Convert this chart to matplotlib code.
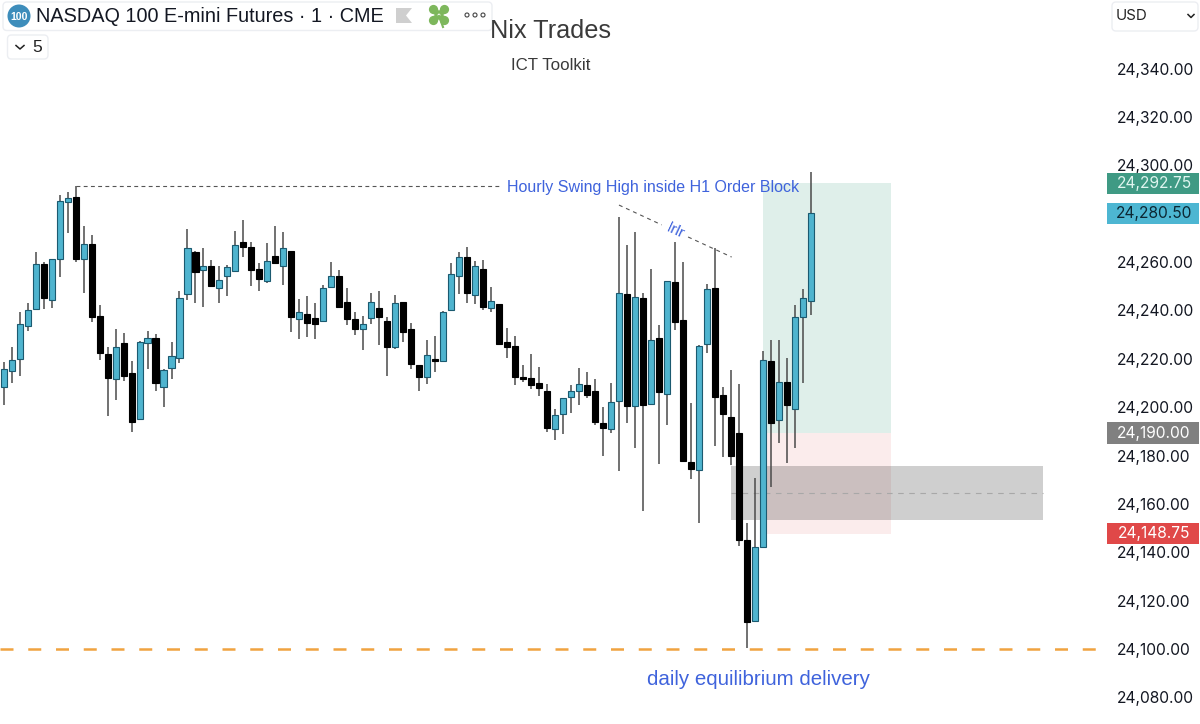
import matplotlib
matplotlib.use("Agg")
import numpy as np
import matplotlib.pyplot as plt
from matplotlib.patches import Rectangle, FancyBboxPatch, Circle, Polygon
from matplotlib.transforms import blended_transform_factory

# one minute candles
opens = [24208.5, 24214.8, 24219.9, 24233.7, 24240.7, 24259.1, 24244.5, 24261.2, 24284.9, 24287.1,
         24261.4, 24267.5, 24237.7, 24221.9, 24211.8, 24226.4, 24214.0, 24195.0, 24226.4, 24228.8,
         24208.5, 24216.2, 24220.5, 24246.8, 24264.2, 24256.6, 24258.4, 24249.4, 24254.3, 24256.5,
         24268.2, 24266.1, 24257.2, 24252.4, 24262.7, 24258.4, 24264.8, 24236.4, 24238.6, 24236.8,
         24235.5, 24249.6, 24254.4, 24243.4, 24236.5, 24232.4, 24236.8, 24241.2, 24235.7, 24225.1,
         24243.4, 24232.5, 24217.5, 24212.5, 24220.1, 24219.1, 24240.0, 24254.4, 24262.0, 24246.3,
         24257.1, 24241.1, 24242.6, 24227.0, 24225.2, 24212.5, 24211.9, 24209.9, 24206.8, 24190.8,
         24197.0, 24204.1, 24206.8, 24209.0, 24206.8, 24193.3, 24191.1, 24202.7, 24246.8, 24200.6,
         24245.2, 24201.5, 24228.8, 24205.6, 24251.8, 24235.9, 24177.2, 24174.2, 24226.0, 24249.2,
         24205.0, 24196.1, 24189.5, 24145.1, 24111.6, 24142.1, 24219.0, 24194.7, 24210.6, 24199.1,
         24237.4, 24243.9]
closes = [24215.7, 24219.4, 24234.3, 24240.2, 24259.1, 24245.2, 24261.2, 24285.1, 24286.4, 24261.2,
          24267.4, 24237.3, 24222.5, 24212.1, 24224.9, 24213.0, 24194.0, 24227.0, 24228.6, 24209.9,
          24215.4, 24221.2, 24245.0, 24265.8, 24256.1, 24258.4, 24250.1, 24252.6, 24258.1, 24266.9,
          24266.4, 24256.7, 24252.9, 24260.4, 24259.8, 24265.7, 24237.3, 24239.4, 24235.0, 24234.6,
          24249.2, 24254.4, 24241.5, 24236.4, 24232.4, 24234.6, 24243.7, 24237.3, 24224.7, 24242.9,
          24231.1, 24217.9, 24212.5, 24221.8, 24219.1, 24239.4, 24255.0, 24262.0, 24247.3, 24258.3,
          24241.5, 24243.8, 24226.2, 24224.7, 24212.5, 24211.5, 24209.3, 24207.8, 24191.4, 24196.9,
          24203.7, 24206.6, 24209.5, 24205.2, 24193.7, 24191.4, 24202.2, 24247.4, 24200.6, 24245.4,
          24200.9, 24227.8, 24206.3, 24252.2, 24235.2, 24177.6, 24174.6, 24225.2, 24248.8, 24204.2,
          24197.2, 24179.9, 24145.1, 24111.3, 24142.1, 24219.5, 24193.3, 24210.6, 24200.9, 24237.4,
          24245.2, 24280.5]
highs = [24218.8, 24224.8, 24239.4, 24243.0, 24264.0, 24260.2, 24261.2, 24287.8, 24288.9, 24291.5,
         24274.9, 24271.2, 24242.1, 24224.8, 24232.2, 24230.5, 24219.2, 24227.4, 24231.6, 24230.3,
         24215.9, 24226.8, 24248.2, 24273.6, 24264.6, 24265.7, 24260.9, 24258.5, 24258.7, 24272.7,
         24277.3, 24268.3, 24259.5, 24268.1, 24275.0, 24272.4, 24264.8, 24244.8, 24246.0, 24243.0,
         24250.7, 24260.0, 24256.6, 24249.2, 24239.4, 24237.6, 24247.3, 24248.1, 24237.3, 24246.3,
         24243.4, 24234.7, 24217.5, 24227.8, 24229.6, 24239.7, 24259.5, 24264.1, 24266.3, 24260.5,
         24260.8, 24249.6, 24242.6, 24232.7, 24229.4, 24217.3, 24221.9, 24216.6, 24209.7, 24199.3,
         24203.7, 24209.0, 24216.1, 24214.4, 24211.5, 24200.2, 24210.0, 24278.7, 24267.1, 24272.3,
         24247.1, 24257.3, 24233.9, 24252.2, 24268.2, 24260.2, 24201.6, 24225.7, 24250.8, 24265.7,
         24208.5, 24215.5, 24209.6, 24152.0, 24170.9, 24223.4, 24227.7, 24227.7, 24220.5, 24242.3,
         24248.8, 24297.4]
lows = [24201.0, 24210.1, 24213.0, 24231.6, 24240.5, 24240.6, 24241.0, 24253.7, 24272.2, 24260.2,
        24247.1, 24235.2, 24219.5, 24196.4, 24203.0, 24210.7, 24189.9, 24195.0, 24215.9, 24206.8,
        24200.2, 24211.8, 24218.1, 24244.2, 24243.2, 24241.3, 24250.1, 24243.2, 24246.1, 24256.5,
        24262.0, 24250.3, 24248.1, 24251.3, 24259.5, 24250.4, 24231.1, 24228.2, 24229.1, 24228.2,
        24235.5, 24249.3, 24240.9, 24233.8, 24229.8, 24223.7, 24234.6, 24225.9, 24213.1, 24224.1,
        24227.1, 24215.8, 24206.7, 24209.6, 24214.6, 24219.1, 24240.0, 24246.9, 24243.0, 24242.7,
        24240.2, 24239.4, 24226.2, 24220.2, 24209.0, 24210.4, 24207.5, 24204.8, 24189.7, 24186.4,
        24189.1, 24197.5, 24200.9, 24203.8, 24192.5, 24179.8, 24189.5, 24173.7, 24193.6, 24183.3,
        24157.2, 24201.5, 24176.6, 24192.5, 24231.8, 24177.6, 24170.2, 24152.2, 24222.3, 24183.8,
        24179.5, 24176.1, 24142.7, 24100.25, 24111.6, 24142.1, 24167.1, 24185.2, 24177.1, 24183.3,
        24209.9, 24238.1]

price_ticks = [24080, 24100, 24120, 24140, 24160, 24180, 24200, 24220, 24240, 24260, 24280, 24300, 24320, 24340]

badge_values = [24292.75, 24280.50, 24190.00, 24148.75]
zone_top, zone_mid, zone_bot = 24292.75, 24189.3, 24147.6
gap_top, gap_mid, gap_bot = 24175.7, 24164.7, 24153.4
swing_high = 24291.5
equilibrium = 24100.0

BLUE = "#4fb4cf"
EDGE = "#1b5a70"
TEXT_BLUE = "#3f63dc"
CLOVER = "#7db75c"
SANS = ["Liberation Sans", "DejaVu Sans"]

fig = plt.figure(figsize=(12, 7.24), dpi=100, facecolor="white")
ax = fig.add_axes([0, 0, 1100 / 1200, 1])
ax.set_xlim(-0.463, 137.2)
ax.set_ylim(24069.0, 24368.4)
for s in ax.spines.values():
    s.set_visible(False)
ax.xaxis.set_visible(False)
ax.yaxis.tick_right()
ax.set_yticks(price_ticks)
ax.set_yticklabels([f"{p:,.2f}" for p in price_ticks], family="Inter", fontsize=11.2, color="#131722")
ax.tick_params(axis="y", length=0, pad=12)

# position tool and fair value gap, behind the candles
ax.add_patch(Rectangle((95.03, zone_mid), 16.02, zone_top - zone_mid, facecolor="#dfefea", lw=0, zorder=1))
ax.add_patch(Rectangle((95.03, zone_bot), 16.02, zone_mid - zone_bot, facecolor="#fbecec", lw=0, zorder=1))
ax.add_patch(Rectangle((91.07, gap_bot), 39.0, gap_top - gap_bot, facecolor="black", alpha=0.19, lw=0, zorder=2))
ax.plot([91.07, 130.07], [gap_mid, gap_mid], color="#a8a8a8", lw=0.8, ls=(0, (5, 5)), zorder=2)

# candles
x = np.arange(len(opens))
o, c, h, l = map(np.array, (opens, closes, highs, lows))
up = c >= o
ax.vlines(x, l, h, color="#4a4a4a", lw=1.1, zorder=3)
ax.bar(x[up], (c - o)[up], bottom=o[up], width=0.76, color=BLUE, edgecolor=EDGE, lw=0.8, zorder=4)
ax.bar(x[~up], (o - c)[~up], bottom=c[~up], width=0.76, color="black", edgecolor="black", lw=0.8, zorder=4)

# drawings
ax.plot([9, 62.3], [swing_high, swing_high], color="#555555", lw=0.8, ls=(0, (3.5, 3)), zorder=3)
ax.text(63.0, swing_high - 0.7, "Hourly Swing High inside H1 Order Block", color=TEXT_BLUE, fontsize=11.5,
        family=SANS, va="center", ha="left", zorder=5)
ax.plot([77, 82.35], [24283.6, 24275.4], color="#555555", lw=0.8, ls=(0, (3.5, 3.5)), zorder=3)
ax.plot([85.65, 91.1], [24270.4, 24262.1], color="#555555", lw=0.8, ls=(0, (3.5, 3.5)), zorder=3)
ax.text(84.0, 24272.8, "lrlr", color=TEXT_BLUE, fontsize=11, family=SANS, rotation=-25,
        rotation_mode="anchor", ha="center", va="center", zorder=5)
ax.plot([-0.463, 137.0], [equilibrium, equilibrium], color="#f0a340", lw=1.8, ls=(0, (5.2, 5.9)), zorder=3)
ax.text(94.5, 24087.4, "daily equilibrium delivery", color=TEXT_BLUE, fontsize=14.8, family=SANS,
        ha="center", va="center", zorder=5)

# price badges on the right scale, nudged to where the reference has them
tr = blended_transform_factory(ax.transAxes, ax.transData)
badge_y = [24292.4, 24280.2, 24189.3, 24147.9]
badge_bg = ["#3f9a84", "#4db6d2", "#808080", "#e04848"]
badge_fg = ["#dff5ef", "#0c2733", "white", "white"]
for value, y, bg, fg in zip(badge_values, badge_y, badge_bg, badge_fg):
    ax.add_patch(Rectangle((1106.7 / 1100, y - 4.4), 92.3 / 1100, 8.8, transform=tr, facecolor=bg, lw=0,
                           clip_on=False, zorder=6))
    ax.text(1154 / 1100, y, f"{value:,.2f}", transform=tr, color=fg, family="Inter", fontsize=11.2,
            ha="center", va="center", clip_on=False, zorder=7)

# chart header chrome, in pixel coordinates
ui = fig.add_axes([0, 0, 1, 1], facecolor="none")
ui.set_xlim(0, 1200)
ui.set_ylim(724, 0)
ui.axis("off")


def round_box(x0, y0, x1, y1):
    ui.add_patch(FancyBboxPatch((x0 + 4, y0 + 4), x1 - x0 - 8, y1 - y0 - 8, boxstyle="round,pad=4,rounding_size=4",
                                facecolor="white", edgecolor="#eceef2", lw=1))


round_box(3, 2, 492, 30.5)
round_box(7.5, 35, 48, 59)
round_box(1112, 2, 1198, 31)
ui.add_patch(Circle((19, 16), 11.5, facecolor="#3d8dbb", lw=0))
ui.text(19, 16.5, "100", color="white", fontsize=7.6, fontweight="bold", family=SANS, ha="center", va="center")
ui.text(36, 17, "NASDAQ 100 E-mini Futures · 1 · CME", color="#131722", fontsize=14.3, family=SANS,
        ha="left", va="center")
ui.add_patch(Polygon([(396, 8), (412, 8), (406, 15.5), (412, 23), (396, 23)], facecolor="#cfcfcf", lw=0))
for dx, dy in [(-5.5, -5.5), (5.5, -5.5), (-5.5, 5.5), (5.5, 5.5)]:
    ui.add_patch(Circle((439 + dx, 15 + dy), 4.6, facecolor=CLOVER, lw=0))
    ui.add_patch(Circle((439 + dx * 0.55, 15 + dy * 0.55), 3.2, facecolor=CLOVER, lw=0))
ui.plot([439, 443], [16, 27], color=CLOVER, lw=1.5)
for px in (467, 475, 483):
    ui.add_patch(Circle((px, 15), 2, facecolor="white", edgecolor="#444444", lw=0.8))
ui.plot([16, 20, 24], [45.5, 49, 45.5], color="#222222", lw=1.1)
ui.text(37, 48, "5", color="#222222", fontsize=12.5, family=SANS, ha="center", va="center")
ui.text(1116, 16.5, "USD", color="#222222", fontsize=10.8, family="Inter", ha="left", va="center")
ui.plot([1188, 1191, 1194], [14.5, 17.5, 14.5], color="#222222", lw=1.1)

ui.text(551, 31, "Nix Trades", color="#3a3a3a", fontsize=18.2, family=SANS, ha="center", va="center")
ui.text(551, 65, "ICT Toolkit", color="#3a3a3a", fontsize=12.2, family=SANS, ha="center", va="center")

fig.savefig("out.png", dpi=100)
